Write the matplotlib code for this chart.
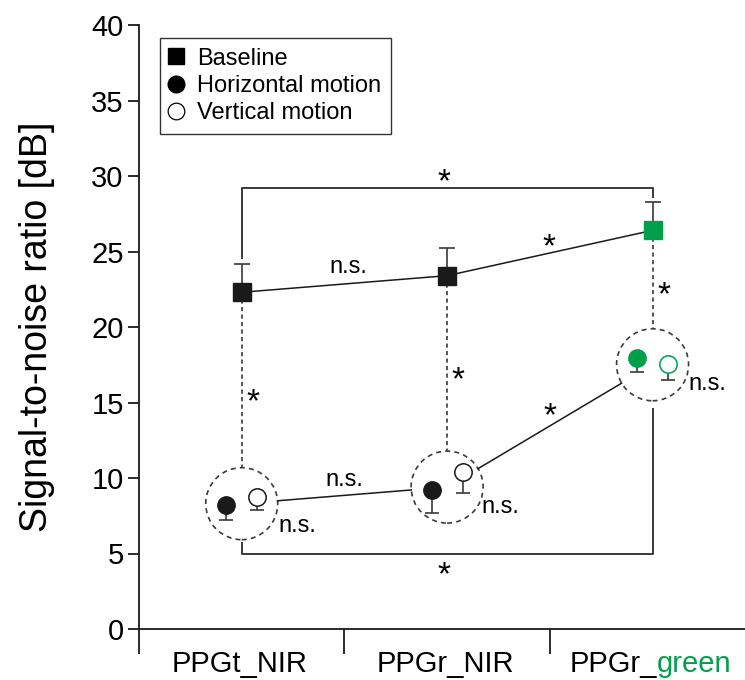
import numpy as np
import matplotlib.pyplot as plt
from matplotlib.patches import Ellipse

plt.rcParams['font.family'] = ['Liberation Sans', 'DejaVu Sans']

GREEN = '#00a04a'
DARK = '#1a1a1a'
GREY = '#3a3a3a'

categories = ['PPGt_NIR', 'PPGr_NIR', 'PPGr_green']
baseline = [22.3, 23.4, 26.4]
baseline_err = [1.9, 1.85, 1.9]
horizontal = [8.2, 9.2, 17.95]
horizontal_err = [1.0, 1.5, 0.95]
vertical = [8.75, 10.4, 17.55]
vertical_err = [0.85, 1.4, 1.05]
colors = [DARK, DARK, GREEN]

# dashed group circles (centre of each motion pair)
group_y = [8.3, 9.4, 17.5]

# significance labels: (x, y)
stars = [(0.055, 15.5), (1.055, 16.95), (2.058, 22.6),
         (1.494, 25.8), (1.499, 14.6), (0.983, 30.1), (0.983, 4.05)]
ns_labels = [(0.52, 24.0), (0.50, 9.9), (0.27, 6.8), (1.26, 8.1), (2.265, 16.2)]

fig = plt.figure(figsize=(7.45, 6.8), dpi=100)
ax = fig.add_axes([139/745, 51/680, 606/745, 604/680])
ax.set_xlim(-0.5, 2.45)
ax.set_ylim(0, 40)

x = np.arange(len(categories))
off = 0.075

# pixel scale
px_x = ax.transData.transform((1, 0))[0] - ax.transData.transform((0, 0))[0]
px_y = ax.transData.transform((0, 1))[1] - ax.transData.transform((0, 0))[1]
r_px = 36
rx, ry = r_px / px_x, r_px / px_y

# baseline line + errors
ax.plot(x, baseline, color=DARK, lw=1.1, zorder=2)
ax.errorbar(x, baseline, yerr=[np.zeros(3), baseline_err], fmt='none',
            ecolor=GREY, elinewidth=1.2, capsize=6, capthick=1.2, zorder=1)
for i in x:
    ax.plot(i, baseline[i], 's', ms=13, color=colors[i], mec=colors[i], zorder=3)

# motion markers
for i in x:
    ax.errorbar(i - off, horizontal[i], yerr=[[horizontal_err[i]], [0]], fmt='none',
                ecolor=GREY, elinewidth=1.2, capsize=5, capthick=1.2, zorder=1)
    ax.errorbar(i + off, vertical[i], yerr=[[vertical_err[i]], [0]], fmt='none',
                ecolor=GREY, elinewidth=1.2, capsize=5, capthick=1.2, zorder=1)
    ax.plot(i - off, horizontal[i], 'o', ms=12.5, color=colors[i], mec=colors[i], zorder=3)
    ax.plot(i + off, vertical[i], 'o', ms=12.5, mfc='white', mec=colors[i], mew=1.1, zorder=3)
    ax.add_patch(Ellipse((i, group_y[i]), 2 * rx, 2 * ry, fill=False, ec=GREY,
                         lw=1.2, ls=(0, (3, 2.5)), zorder=2))
    # dashed link baseline -> circle
    ax.plot([i, i], [baseline[i], group_y[i] + ry], color=GREY, lw=1.2,
            ls=(0, (2.5, 2)), zorder=1)

# solid links between circles (centre to centre, clipped at circle edge)
for i in range(2):
    p0 = ax.transData.transform((i, group_y[i]))
    p1 = ax.transData.transform((i + 1, group_y[i + 1]))
    u = (p1 - p0) / np.hypot(*(p1 - p0))
    a = ax.transData.inverted().transform(p0 + u * r_px)
    b = ax.transData.inverted().transform(p1 - u * r_px)
    ax.plot([a[0], b[0]], [a[1], b[1]], color=DARK, lw=1.1, zorder=2)

# brackets
top = 29.2
ax.plot([0, 0, 2, 2], [24.6, top, top, 28.6], color=GREY, lw=1.4, zorder=1)
bot = 5.0
ax.plot([0, 0, 2, 2], [5.7, bot, bot, 14.6], color=GREY, lw=1.4, zorder=1)

for sx, sy in stars:
    ax.annotate('*', (sx, sy), xytext=(0, -8), textcoords='offset pixels',
                ha='center', va='center', fontsize=24, color='black')
for nx, ny in ns_labels:
    ax.text(nx, ny, 'n.s.', ha='center', va='center', fontsize=17, color='black')

# legend
ax.plot([], [], 's', ms=11, color='black', label='Baseline')
ax.plot([], [], 'o', ms=12, color='black', label='Horizontal motion')
ax.plot([], [], 'o', ms=12, mfc='white', mec='black', mew=0.9, label='Vertical motion')
leg = ax.legend(loc='upper left', bbox_to_anchor=(0.034, 0.978), frameon=True,
                fancybox=False, fontsize=17, handlelength=0.6, handletextpad=0.6,
                labelspacing=0.22, borderpad=0.4, borderaxespad=0)
leg.get_frame().set_edgecolor('black')
leg.get_frame().set_linewidth(1.0)

# axes styling
for s in ['top', 'right']:
    ax.spines[s].set_visible(False)
for s in ['left', 'bottom']:
    ax.spines[s].set_linewidth(1.3)
    ax.spines[s].set_color(DARK)
ax.set_yticks(np.arange(0, 41, 5))
ax.tick_params(axis='y', direction='out', length=8, width=1.3, labelsize=21, pad=3, color=DARK)
ax.set_xticks([-0.5, 0.5, 1.5])
ax.set_xticklabels([])
ax.tick_params(axis='x', direction='out', length=18, width=1.3, color=DARK)
ax.set_ylabel('Signal-to-noise ratio [dB]', fontsize=27, labelpad=26)

# category labels (last one two-coloured)
lab_kw = dict(xycoords=('data', 'axes fraction'), textcoords='offset pixels',
              va='top', fontsize=21)
for i in range(2):
    ax.annotate(categories[i], (i, 0), xytext=(-2, -21), ha='center', **lab_kw)
t1 = ax.annotate('PPGr_', (2, 0), xytext=(0, -21), ha='left', **lab_kw)
t2 = ax.annotate('green', xy=(1, 0), xycoords=t1, va='bottom', ha='left',
                 fontsize=21, color=GREEN)
fig.canvas.draw()
r = fig.canvas.get_renderer()
w = t1.get_window_extent(r).width + t2.get_window_extent(r).width
t1.set_position((-w / 2 - 2, -21))

fig.savefig('out.png', dpi=100)
